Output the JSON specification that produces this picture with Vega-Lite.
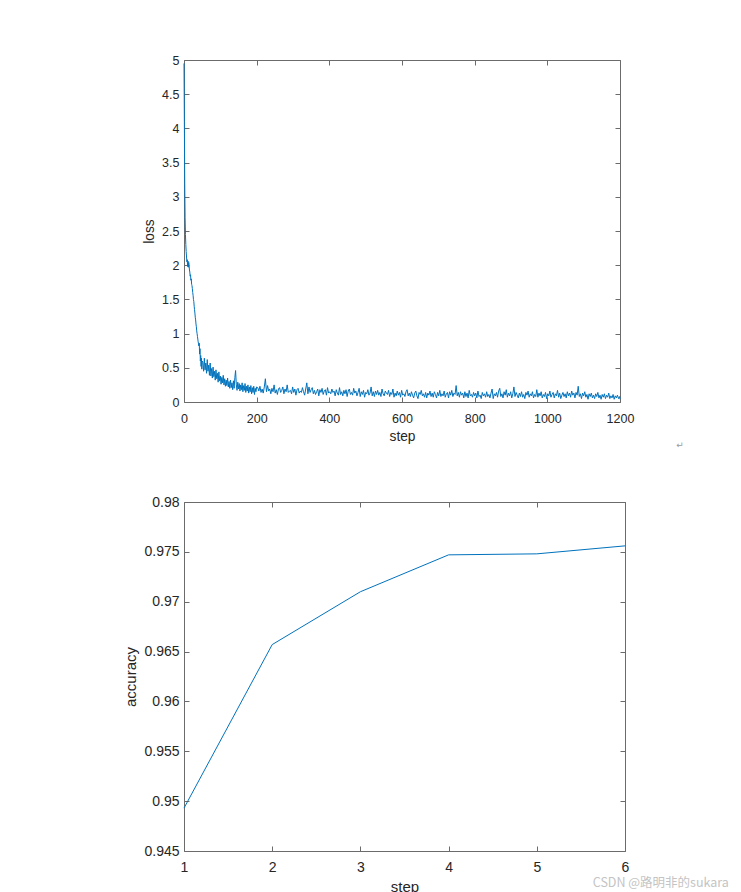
{
"$schema": "https://vega.github.io/schema/vega-lite/v6.json",
"padding": {"left": 123, "top": 54, "right": 0, "bottom": 0},
"background": "white",
"bounds": "flush",
"spacing": 100,
"config": {
  "font": "Liberation Sans",
  "view": {"stroke": null},
  "axis": {"domainColor": "#6b6b6b", "tickColor": "#6b6b6b", "domainWidth": 1, "tickWidth": 1, "labelColor": "#262626", "titleColor": "#262626", "titleFontWeight": "normal", "grid": false, "tickSize": -5, "labelPadding": 10, "titlePadding": 5, "labelFlush": false, "labelOverlap": false}
},
"title": {"text": "CSDN @路明非的sukara", "orient": "bottom", "anchor": "end", "font": "Noto Sans CJK SC", "fontSize": 12.5, "fontWeight": "normal", "color": "#c4c4c4", "offset": -17, "dx": 45},
"vconcat": [
{
  "width": 436, "height": 342,
  "title": {"text": "↵", "orient": "bottom", "anchor": "end", "font": "DejaVu Sans", "fontSize": 9, "color": "#9a9a9a", "fontWeight": "normal", "offset": -2, "dx": 50},
  "data": {"values": [
{"step":0,"loss":4.95},{"step":1,"loss":4.1},{"step":2,"loss":3.2},{"step":3,"loss":2.7},{"step":4,"loss":2.45},{"step":5,"loss":2.3},{"step":6,"loss":2.2},{"step":7,"loss":2.12},{"step":8,"loss":2.05},{"step":9,"loss":2.08},{"step":10,"loss":1.98},{"step":11,"loss":2.06},{"step":12,"loss":1.97},{"step":13,"loss":2.04},{"step":14,"loss":2.0},{"step":15,"loss":1.93},{"step":16,"loss":1.9},{"step":17,"loss":1.84},{"step":18,"loss":1.86},{"step":19,"loss":1.78},{"step":20,"loss":1.8},{"step":21,"loss":1.72},{"step":22,"loss":1.7},{"step":23,"loss":1.66},{"step":24,"loss":1.6},{"step":25,"loss":1.56},{"step":26,"loss":1.5},{"step":27,"loss":1.47},{"step":28,"loss":1.4},{"step":29,"loss":1.35},{"step":30,"loss":1.3},{"step":31,"loss":1.24},{"step":32,"loss":1.2},{"step":33,"loss":1.14},{"step":34,"loss":1.1},{"step":35,"loss":1.04},{"step":36,"loss":1.0},{"step":37,"loss":0.96},{"step":38,"loss":0.92},{"step":39,"loss":0.88},{"step":40,"loss":0.85},{"step":41,"loss":0.82},{"step":42,"loss":0.86},{"step":43,"loss":0.7},{"step":44,"loss":0.78},{"step":45,"loss":0.6},{"step":46,"loss":0.68},{"step":47,"loss":0.52},{"step":48,"loss":0.64},{"step":49,"loss":0.48},{"step":50,"loss":0.6},
{"step":52,"loss":0.58},{"step":54,"loss":0.45},{"step":56,"loss":0.64},{"step":58,"loss":0.47},{"step":60,"loss":0.57},{"step":62,"loss":0.42},{"step":64,"loss":0.62},{"step":66,"loss":0.45},{"step":68,"loss":0.54},{"step":70,"loss":0.39},{"step":72,"loss":0.57},{"step":74,"loss":0.38},{"step":76,"loss":0.49},{"step":78,"loss":0.35},{"step":80,"loss":0.51},{"step":82,"loss":0.37},{"step":84,"loss":0.45},{"step":86,"loss":0.32},{"step":88,"loss":0.47},{"step":90,"loss":0.34},{"step":92,"loss":0.42},{"step":94,"loss":0.29},{"step":96,"loss":0.44},{"step":98,"loss":0.31},{"step":100,"loss":0.38},{"step":102,"loss":0.26},{"step":104,"loss":0.36},{"step":106,"loss":0.28},{"step":108,"loss":0.39},{"step":110,"loss":0.25},{"step":112,"loss":0.34},{"step":114,"loss":0.23},{"step":116,"loss":0.32},{"step":118,"loss":0.24},{"step":120,"loss":0.35},{"step":122,"loss":0.22},{"step":124,"loss":0.3},{"step":126,"loss":0.2},{"step":128,"loss":0.32},{"step":130,"loss":0.21},{"step":132,"loss":0.28},{"step":134,"loss":0.18},{"step":136,"loss":0.31},{"step":138,"loss":0.2},{"step":140,"loss":0.36},{"step":142,"loss":0.46},{"step":144,"loss":0.25},{"step":146,"loss":0.17},{"step":148,"loss":0.29},{"step":150,"loss":0.19},{"step":152,"loss":0.27},{"step":154,"loss":0.16},{"step":156,"loss":0.25},{"step":158,"loss":0.18},{"step":160,"loss":0.28},{"step":162,"loss":0.15},{"step":164,"loss":0.24},{"step":166,"loss":0.17},{"step":168,"loss":0.27},{"step":170,"loss":0.14},{"step":172,"loss":0.23},{"step":174,"loss":0.16},{"step":176,"loss":0.25},{"step":178,"loss":0.13},{"step":180,"loss":0.22},{"step":182,"loss":0.15},{"step":184,"loss":0.24},{"step":186,"loss":0.12},{"step":188,"loss":0.21},{"step":190,"loss":0.14},{"step":192,"loss":0.23},{"step":194,"loss":0.11},{"step":196,"loss":0.2},{"step":198,"loss":0.15},{"step":200,"loss":0.22},
{"step":203,"loss":0.21},{"step":206,"loss":0.16},{"step":209,"loss":0.23},{"step":212,"loss":0.14},{"step":215,"loss":0.19},{"step":218,"loss":0.13},{"step":221,"loss":0.22},{"step":224,"loss":0.34},{"step":227,"loss":0.15},{"step":230,"loss":0.24},
{"step":233,"loss":0.16},{"step":236,"loss":0.19},{"step":239,"loss":0.12},{"step":242,"loss":0.2},{"step":245,"loss":0.15},{"step":248,"loss":0.25},{"step":251,"loss":0.13},{"step":254,"loss":0.18},{"step":257,"loss":0.11},{"step":260,"loss":0.19},
{"step":263,"loss":0.21},{"step":266,"loss":0.14},{"step":269,"loss":0.17},{"step":272,"loss":0.22},{"step":275,"loss":0.12},{"step":278,"loss":0.19},{"step":281,"loss":0.15},{"step":284,"loss":0.25},{"step":287,"loss":0.14},{"step":290,"loss":0.16},
{"step":293,"loss":0.17},{"step":296,"loss":0.12},{"step":299,"loss":0.22},{"step":302,"loss":0.14},{"step":305,"loss":0.19},{"step":308,"loss":0.1},{"step":311,"loss":0.18},{"step":314,"loss":0.2},{"step":317,"loss":0.13},{"step":320,"loss":0.16},
{"step":323,"loss":0.14},{"step":326,"loss":0.21},{"step":329,"loss":0.15},{"step":332,"loss":0.1},{"step":335,"loss":0.19},{"step":338,"loss":0.28},{"step":341,"loss":0.12},{"step":344,"loss":0.22},{"step":347,"loss":0.14},{"step":350,"loss":0.18},
{"step":353,"loss":0.21},{"step":356,"loss":0.12},{"step":359,"loss":0.17},{"step":362,"loss":0.11},{"step":365,"loss":0.15},{"step":368,"loss":0.19},{"step":371,"loss":0.09},{"step":374,"loss":0.18},{"step":377,"loss":0.14},{"step":380,"loss":0.2},
{"step":383,"loss":0.11},{"step":386,"loss":0.16},{"step":389,"loss":0.18},{"step":392,"loss":0.1},{"step":395,"loss":0.21},{"step":398,"loss":0.13},{"step":401,"loss":0.15},{"step":404,"loss":0.12},{"step":407,"loss":0.19},{"step":410,"loss":0.14},
{"step":413,"loss":0.16},{"step":416,"loss":0.09},{"step":419,"loss":0.18},{"step":422,"loss":0.13},{"step":425,"loss":0.1},{"step":428,"loss":0.21},{"step":431,"loss":0.11},{"step":434,"loss":0.15},{"step":437,"loss":0.09},{"step":440,"loss":0.17},
{"step":443,"loss":0.12},{"step":446,"loss":0.18},{"step":449,"loss":0.08},{"step":452,"loss":0.16},{"step":455,"loss":0.19},{"step":458,"loss":0.11},{"step":461,"loss":0.14},{"step":464,"loss":0.1},{"step":467,"loss":0.2},{"step":470,"loss":0.13},
{"step":473,"loss":0.16},{"step":476,"loss":0.09},{"step":479,"loss":0.14},{"step":482,"loss":0.2},{"step":485,"loss":0.08},{"step":488,"loss":0.15},{"step":491,"loss":0.11},{"step":494,"loss":0.17},{"step":497,"loss":0.07},{"step":500,"loss":0.14},
{"step":503,"loss":0.12},{"step":506,"loss":0.18},{"step":509,"loss":0.1},{"step":512,"loss":0.13},{"step":515,"loss":0.22},{"step":518,"loss":0.09},{"step":521,"loss":0.15},{"step":524,"loss":0.08},{"step":527,"loss":0.16},{"step":530,"loss":0.11},
{"step":533,"loss":0.17},{"step":536,"loss":0.1},{"step":539,"loss":0.14},{"step":542,"loss":0.08},{"step":545,"loss":0.19},{"step":548,"loss":0.12},{"step":551,"loss":0.09},{"step":554,"loss":0.16},{"step":557,"loss":0.13},{"step":560,"loss":0.11},
{"step":563,"loss":0.17},{"step":566,"loss":0.08},{"step":569,"loss":0.14},{"step":572,"loss":0.11},{"step":575,"loss":0.19},{"step":578,"loss":0.07},{"step":581,"loss":0.13},{"step":584,"loss":0.09},{"step":587,"loss":0.16},{"step":590,"loss":0.1},
{"step":593,"loss":0.14},{"step":596,"loss":0.07},{"step":599,"loss":0.17},{"step":602,"loss":0.1},{"step":605,"loss":0.12},{"step":608,"loss":0.08},{"step":611,"loss":0.15},{"step":614,"loss":0.18},{"step":617,"loss":0.09},{"step":620,"loss":0.13},
{"step":623,"loss":0.08},{"step":626,"loss":0.15},{"step":629,"loss":0.1},{"step":632,"loss":0.06},{"step":635,"loss":0.13},{"step":638,"loss":0.16},{"step":641,"loss":0.09},{"step":644,"loss":0.05},{"step":647,"loss":0.14},{"step":650,"loss":0.11},
{"step":653,"loss":0.17},{"step":656,"loss":0.09},{"step":659,"loss":0.12},{"step":662,"loss":0.07},{"step":665,"loss":0.14},{"step":668,"loss":0.06},{"step":671,"loss":0.13},{"step":674,"loss":0.1},{"step":677,"loss":0.16},{"step":680,"loss":0.08},
{"step":683,"loss":0.13},{"step":686,"loss":0.07},{"step":689,"loss":0.15},{"step":692,"loss":0.11},{"step":695,"loss":0.06},{"step":698,"loss":0.14},{"step":701,"loss":0.09},{"step":704,"loss":0.17},{"step":707,"loss":0.08},{"step":710,"loss":0.12},
{"step":713,"loss":0.09},{"step":716,"loss":0.16},{"step":719,"loss":0.07},{"step":722,"loss":0.12},{"step":725,"loss":0.14},{"step":728,"loss":0.06},{"step":731,"loss":0.15},{"step":734,"loss":0.1},{"step":737,"loss":0.17},{"step":740,"loss":0.08},
{"step":743,"loss":0.13},{"step":746,"loss":0.11},{"step":749,"loss":0.24},{"step":752,"loss":0.09},{"step":755,"loss":0.14},{"step":758,"loss":0.07},{"step":761,"loss":0.15},{"step":764,"loss":0.1},{"step":767,"loss":0.13},{"step":770,"loss":0.06},
{"step":773,"loss":0.15},{"step":776,"loss":0.08},{"step":779,"loss":0.13},{"step":782,"loss":0.06},{"step":785,"loss":0.17},{"step":788,"loss":0.09},{"step":791,"loss":0.11},{"step":794,"loss":0.07},{"step":797,"loss":0.14},{"step":800,"loss":0.09},
{"step":803,"loss":0.13},{"step":806,"loss":0.06},{"step":809,"loss":0.16},{"step":812,"loss":0.08},{"step":815,"loss":0.1},{"step":818,"loss":0.05},{"step":821,"loss":0.14},{"step":824,"loss":0.09},{"step":827,"loss":0.12},{"step":830,"loss":0.07},
{"step":833,"loss":0.15},{"step":836,"loss":0.08},{"step":839,"loss":0.11},{"step":842,"loss":0.06},{"step":845,"loss":0.13},{"step":848,"loss":0.19},{"step":851,"loss":0.05},{"step":854,"loss":0.12},{"step":857,"loss":0.09},{"step":860,"loss":0.14},
{"step":863,"loss":0.07},{"step":866,"loss":0.16},{"step":869,"loss":0.2},{"step":872,"loss":0.08},{"step":875,"loss":0.12},{"step":878,"loss":0.06},{"step":881,"loss":0.15},{"step":884,"loss":0.1},{"step":887,"loss":0.18},{"step":890,"loss":0.07},
{"step":893,"loss":0.13},{"step":896,"loss":0.09},{"step":899,"loss":0.15},{"step":902,"loss":0.06},{"step":905,"loss":0.12},{"step":908,"loss":0.22},{"step":911,"loss":0.08},{"step":914,"loss":0.14},{"step":917,"loss":0.1},{"step":920,"loss":0.06},
{"step":923,"loss":0.13},{"step":926,"loss":0.08},{"step":929,"loss":0.15},{"step":932,"loss":0.07},{"step":935,"loss":0.11},{"step":938,"loss":0.05},{"step":941,"loss":0.14},{"step":944,"loss":0.1},{"step":947,"loss":0.16},{"step":950,"loss":0.07},
{"step":953,"loss":0.12},{"step":956,"loss":0.09},{"step":959,"loss":0.15},{"step":962,"loss":0.06},{"step":965,"loss":0.11},{"step":968,"loss":0.08},{"step":971,"loss":0.18},{"step":974,"loss":0.07},{"step":977,"loss":0.13},{"step":980,"loss":0.09},
{"step":983,"loss":0.15},{"step":986,"loss":0.06},{"step":989,"loss":0.11},{"step":992,"loss":0.08},{"step":995,"loss":0.14},{"step":998,"loss":0.05},{"step":1001,"loss":0.12},{"step":1004,"loss":0.09},{"step":1007,"loss":0.16},{"step":1010,"loss":0.07},
{"step":1013,"loss":0.11},{"step":1016,"loss":0.14},{"step":1019,"loss":0.06},{"step":1022,"loss":0.12},{"step":1025,"loss":0.09},{"step":1028,"loss":0.17},{"step":1031,"loss":0.07},{"step":1034,"loss":0.13},{"step":1037,"loss":0.05},{"step":1040,"loss":0.1},
{"step":1043,"loss":0.14},{"step":1046,"loss":0.08},{"step":1049,"loss":0.12},{"step":1052,"loss":0.06},{"step":1055,"loss":0.15},{"step":1058,"loss":0.09},{"step":1061,"loss":0.13},{"step":1064,"loss":0.07},{"step":1067,"loss":0.16},{"step":1070,"loss":0.1},
{"step":1073,"loss":0.13},{"step":1076,"loss":0.06},{"step":1079,"loss":0.14},{"step":1082,"loss":0.1},{"step":1085,"loss":0.23},{"step":1088,"loss":0.08},{"step":1091,"loss":0.12},{"step":1094,"loss":0.05},{"step":1097,"loss":0.13},{"step":1100,"loss":0.09},
{"step":1103,"loss":0.15},{"step":1106,"loss":0.07},{"step":1109,"loss":0.11},{"step":1112,"loss":0.04},{"step":1115,"loss":0.12},{"step":1118,"loss":0.08},{"step":1121,"loss":0.13},{"step":1124,"loss":0.06},{"step":1127,"loss":0.1},{"step":1130,"loss":0.05},
{"step":1133,"loss":0.12},{"step":1136,"loss":0.08},{"step":1139,"loss":0.14},{"step":1142,"loss":0.06},{"step":1145,"loss":0.1},{"step":1148,"loss":0.04},{"step":1151,"loss":0.11},{"step":1154,"loss":0.07},{"step":1157,"loss":0.12},{"step":1160,"loss":0.05},
{"step":1163,"loss":0.1},{"step":1166,"loss":0.07},{"step":1169,"loss":0.13},{"step":1172,"loss":0.05},{"step":1175,"loss":0.09},{"step":1178,"loss":0.06},{"step":1181,"loss":0.11},{"step":1184,"loss":0.04},{"step":1187,"loss":0.09},{"step":1190,"loss":0.06},
{"step":1193,"loss":0.1},{"step":1196,"loss":0.05},{"step":1199,"loss":0.08},{"step":1200,"loss":0.04}
  ]},
  "layer": [
    {"mark": {"type": "line", "color": "#0072BD", "strokeWidth": 1},
     "encoding": {
       "x": {"field": "step", "type": "quantitative", "scale": {"domain": [0, 1200], "nice": false, "zero": false},
             "axis": {"title": "step", "values": [0,200,400,600,800,1000,1200], "format": "d", "labelFontSize": 12.5, "titleFontSize": 13.75, "labelPadding": 15}},
       "y": {"field": "loss", "type": "quantitative", "scale": {"domain": [0, 5], "nice": false},
             "axis": {"title": "loss", "values": [0,0.5,1,1.5,2,2.5,3,3.5,4,4.5,5], "format": "~g", "labelFontSize": 12.5, "titleFontSize": 13.75}}
     }},
    {"mark": {"type": "line", "opacity": 0},
     "encoding": {
       "x": {"field": "step", "type": "quantitative", "axis": {"orient": "top", "title": null, "labels": false, "values": [0,200,400,600,800,1000,1200]}},
       "y": {"field": "loss", "type": "quantitative", "axis": {"orient": "right", "title": null, "labels": false, "values": [0,0.5,1,1.5,2,2.5,3,3.5,4,4.5,5]}}
     }}
  ],
  "resolve": {"axis": {"x": "independent", "y": "independent"}}
},
{
  "width": 441, "height": 349,
  "data": {"values": [
    {"step": 1, "accuracy": 0.9493},
    {"step": 2, "accuracy": 0.9657},
    {"step": 3, "accuracy": 0.9710},
    {"step": 4, "accuracy": 0.9747},
    {"step": 5, "accuracy": 0.9748},
    {"step": 6, "accuracy": 0.9756}
  ]},
  "layer": [
    {"mark": {"type": "line", "color": "#0072BD", "strokeWidth": 1},
     "encoding": {
       "x": {"field": "step", "type": "quantitative", "scale": {"domain": [1, 6], "nice": false, "zero": false},
             "axis": {"title": "step", "values": [1,2,3,4,5,6], "format": "d", "labelFontSize": 14, "titleFontSize": 15, "labelPadding": 14}},
       "y": {"field": "accuracy", "type": "quantitative", "scale": {"domain": [0.945, 0.98], "nice": false, "zero": false},
             "axis": {"title": "accuracy", "values": [0.945,0.95,0.955,0.96,0.965,0.97,0.975,0.98], "format": "~g", "labelFontSize": 14, "titleFontSize": 15}}
     }},
    {"mark": {"type": "line", "opacity": 0},
     "encoding": {
       "x": {"field": "step", "type": "quantitative", "axis": {"orient": "top", "title": null, "labels": false, "values": [1,2,3,4,5,6]}},
       "y": {"field": "accuracy", "type": "quantitative", "axis": {"orient": "right", "title": null, "labels": false, "values": [0.945,0.95,0.955,0.96,0.965,0.97,0.975,0.98]}}
     }}
  ],
  "resolve": {"axis": {"x": "independent", "y": "independent"}}
}
]
}
